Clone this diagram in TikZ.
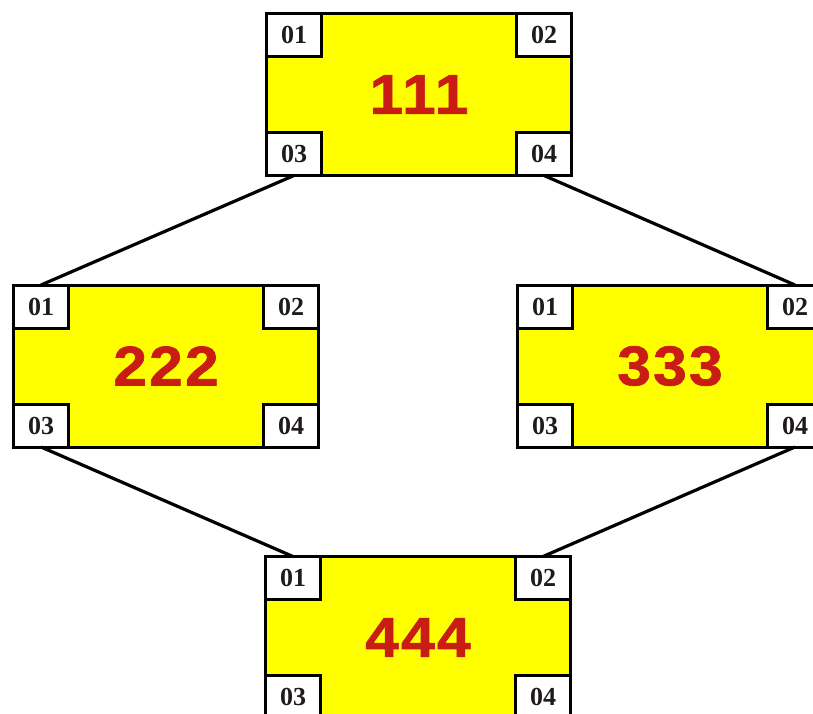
\documentclass[tikz,border=0pt]{standalone}
\usepackage{fontspec}
\setmainfont{Liberation Serif}
\newfontfamily\numfont[FakeStretch=1.08,FakeBold=1.2,LetterSpace=4]{Liberation Sans}
\definecolor{boxyellow}{RGB}{255,255,0}
\definecolor{numred}{RGB}{200,28,20}
\definecolor{portink}{RGB}{30,26,30}
\tikzset{
	unit/.style = {draw, line width = 3pt, fill = boxyellow, minimum width = 305pt, minimum height = 162pt, inner sep = 0pt, outer sep = 0pt, font = \numfont\bfseries\fontsize{56}{56}\selectfont, text = numred},
	port/.style = {draw, line width = 3pt, fill = white, minimum width = 55pt, minimum height = 43pt, inner sep = 0pt, outer sep = 0pt, font = \bfseries\fontsize{26}{26}\selectfont, text = portink}
}
\begin{document}
\begin{tikzpicture}[x = 1pt, y = -1pt]
		\clip (0,0) rectangle (813,714);
		\fill[white] (0,0) rectangle (813,714);
		
		\node[unit] (u1) at (419,94.5) {111};
		\node[unit] (u2) at (166,366) {222};
		\node[unit] (u3) at (670,366) {333};
		\node[unit] (u4) at (418,637.5) {444};
		
		\node[port, anchor = north west] (u1p1) at (u1.north west) {01};
		\node[port, anchor = north east] (u1p2) at (u1.north east) {02};
		\node[port, anchor = south west] (u1p3) at (u1.south west) {03};
		\node[port, anchor = south east] (u1p4) at (u1.south east) {04};
		
		\node[port, anchor = north west] (u2p1) at (u2.north west) {01};
		\node[port, anchor = north east] (u2p2) at (u2.north east) {02};
		\node[port, anchor = south west] (u2p3) at (u2.south west) {03};
		\node[port, anchor = south east] (u2p4) at (u2.south east) {04};
		
		\node[port, anchor = north west] (u3p1) at (u3.north west) {01};
		\node[port, anchor = north east] (u3p2) at (u3.north east) {02};
		\node[port, anchor = south west] (u3p3) at (u3.south west) {03};
		\node[port, anchor = south east] (u3p4) at (u3.south east) {04};
		
		\node[port, anchor = north west] (u4p1) at (u4.north west) {01};
		\node[port, anchor = north east] (u4p2) at (u4.north east) {02};
		\node[port, anchor = south west] (u4p3) at (u4.south west) {03};
		\node[port, anchor = south east] (u4p4) at (u4.south east) {04};
		
		\draw[line width = 3.2pt] (u1p3.south) -- (u2p1.north);
		\draw[line width = 3.2pt] (u1p4.south) -- (u3p2.north);
		\draw[line width = 3.2pt] (u2p3.south) -- (u4p1.north);
		\draw[line width = 3.2pt] (u3p4.south) -- (u4p2.north);
	\end{tikzpicture}
\end{document}
